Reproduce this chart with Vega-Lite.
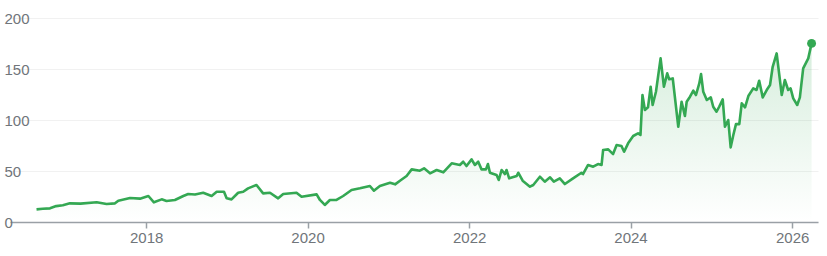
{
  "$schema": "https://vega.github.io/schema/vega-lite/v6.json",
  "width": 808,
  "height": 204,
  "autosize": {"type": "none"},
  "padding": {"left": 10, "top": 18, "right": 9, "bottom": 34},
  "background": "white",
  "config": {
    "view": {"stroke": null},
    "font": "Liberation Sans"
  },
  "data": {
    "values": [
      {"date": "2016-08-23", "price": 12.4},
      {"date": "2016-09-20", "price": 13.0},
      {"date": "2016-10-23", "price": 13.4},
      {"date": "2016-11-20", "price": 15.6},
      {"date": "2016-12-20", "price": 16.4},
      {"date": "2017-01-21", "price": 18.3},
      {"date": "2017-03-10", "price": 18.0},
      {"date": "2017-05-22", "price": 19.3},
      {"date": "2017-07-06", "price": 17.6},
      {"date": "2017-08-13", "price": 18.3},
      {"date": "2017-08-28", "price": 20.9},
      {"date": "2017-10-20", "price": 23.5},
      {"date": "2017-12-04", "price": 22.9},
      {"date": "2018-01-11", "price": 25.5},
      {"date": "2018-02-05", "price": 19.3},
      {"date": "2018-03-12", "price": 22.2},
      {"date": "2018-04-03", "price": 20.6},
      {"date": "2018-05-11", "price": 21.6},
      {"date": "2018-06-18", "price": 25.5},
      {"date": "2018-07-10", "price": 27.4},
      {"date": "2018-08-10", "price": 27.0},
      {"date": "2018-09-16", "price": 28.7},
      {"date": "2018-10-24", "price": 25.5},
      {"date": "2018-11-16", "price": 29.7},
      {"date": "2018-12-19", "price": 29.7},
      {"date": "2018-12-31", "price": 23.2},
      {"date": "2019-01-22", "price": 22.2},
      {"date": "2019-02-21", "price": 28.7},
      {"date": "2019-03-16", "price": 29.7},
      {"date": "2019-04-07", "price": 33.0},
      {"date": "2019-05-15", "price": 36.3},
      {"date": "2019-06-14", "price": 28.1},
      {"date": "2019-07-15", "price": 28.7},
      {"date": "2019-08-21", "price": 23.2},
      {"date": "2019-09-13", "price": 27.4},
      {"date": "2019-11-12", "price": 28.7},
      {"date": "2019-12-05", "price": 24.8},
      {"date": "2020-02-11", "price": 27.1},
      {"date": "2020-02-26", "price": 21.6},
      {"date": "2020-03-19", "price": 16.7},
      {"date": "2020-04-11", "price": 21.6},
      {"date": "2020-05-11", "price": 21.6},
      {"date": "2020-06-10", "price": 25.5},
      {"date": "2020-07-18", "price": 31.4},
      {"date": "2020-08-25", "price": 33.0},
      {"date": "2020-10-09", "price": 35.3},
      {"date": "2020-10-27", "price": 30.7},
      {"date": "2020-11-23", "price": 35.3},
      {"date": "2021-01-08", "price": 38.5},
      {"date": "2021-01-31", "price": 36.9},
      {"date": "2021-02-22", "price": 40.5},
      {"date": "2021-03-24", "price": 45.1},
      {"date": "2021-04-16", "price": 51.6},
      {"date": "2021-05-23", "price": 50.3},
      {"date": "2021-06-11", "price": 52.6},
      {"date": "2021-07-08", "price": 47.7},
      {"date": "2021-08-07", "price": 51.0},
      {"date": "2021-09-06", "price": 48.7},
      {"date": "2021-10-14", "price": 57.5},
      {"date": "2021-11-20", "price": 55.9},
      {"date": "2021-12-05", "price": 59.1},
      {"date": "2021-12-20", "price": 54.9},
      {"date": "2022-01-12", "price": 61.4},
      {"date": "2022-01-27", "price": 55.9},
      {"date": "2022-02-11", "price": 59.1},
      {"date": "2022-02-26", "price": 51.6},
      {"date": "2022-03-18", "price": 51.6},
      {"date": "2022-03-27", "price": 56.8},
      {"date": "2022-04-05", "price": 48.3},
      {"date": "2022-05-05", "price": 46.1},
      {"date": "2022-05-15", "price": 41.2},
      {"date": "2022-05-28", "price": 51.0},
      {"date": "2022-06-12", "price": 47.0},
      {"date": "2022-06-19", "price": 51.0},
      {"date": "2022-07-01", "price": 42.8},
      {"date": "2022-08-04", "price": 45.1},
      {"date": "2022-08-11", "price": 48.3},
      {"date": "2022-08-31", "price": 40.5},
      {"date": "2022-10-03", "price": 34.6},
      {"date": "2022-10-18", "price": 36.3},
      {"date": "2022-11-17", "price": 44.4},
      {"date": "2022-12-09", "price": 39.5},
      {"date": "2023-01-02", "price": 43.8},
      {"date": "2023-01-19", "price": 39.5},
      {"date": "2023-02-15", "price": 42.8},
      {"date": "2023-03-10", "price": 37.2},
      {"date": "2023-04-16", "price": 42.8},
      {"date": "2023-05-24", "price": 48.3},
      {"date": "2023-05-31", "price": 47.0},
      {"date": "2023-06-23", "price": 55.9},
      {"date": "2023-07-16", "price": 54.2},
      {"date": "2023-08-07", "price": 56.8},
      {"date": "2023-08-23", "price": 55.9},
      {"date": "2023-08-30", "price": 70.6},
      {"date": "2023-09-22", "price": 71.2},
      {"date": "2023-10-14", "price": 66.6},
      {"date": "2023-10-30", "price": 75.5},
      {"date": "2023-11-21", "price": 74.5},
      {"date": "2023-12-03", "price": 68.9},
      {"date": "2023-12-21", "price": 77.1},
      {"date": "2024-01-13", "price": 84.3},
      {"date": "2024-02-04", "price": 86.9},
      {"date": "2024-02-15", "price": 85.3},
      {"date": "2024-02-24", "price": 124.5},
      {"date": "2024-03-06", "price": 109.8},
      {"date": "2024-03-20", "price": 112.4},
      {"date": "2024-04-01", "price": 132.6},
      {"date": "2024-04-10", "price": 114.7},
      {"date": "2024-04-25", "price": 127.7},
      {"date": "2024-05-16", "price": 160.4},
      {"date": "2024-05-31", "price": 132.6},
      {"date": "2024-06-15", "price": 145.7},
      {"date": "2024-06-24", "price": 139.9},
      {"date": "2024-07-10", "price": 140.8},
      {"date": "2024-08-04", "price": 93.4},
      {"date": "2024-08-19", "price": 117.9},
      {"date": "2024-09-03", "price": 103.9},
      {"date": "2024-09-11", "price": 117.9},
      {"date": "2024-09-26", "price": 122.8},
      {"date": "2024-10-11", "price": 128.7},
      {"date": "2024-10-23", "price": 124.5},
      {"date": "2024-11-07", "price": 135.9},
      {"date": "2024-11-15", "price": 145.0},
      {"date": "2024-11-25", "price": 127.7},
      {"date": "2024-12-11", "price": 119.6},
      {"date": "2024-12-29", "price": 122.2},
      {"date": "2025-01-09", "price": 113.0},
      {"date": "2025-01-24", "price": 108.1},
      {"date": "2025-02-05", "price": 113.0},
      {"date": "2025-02-21", "price": 120.2},
      {"date": "2025-03-03", "price": 93.4},
      {"date": "2025-03-18", "price": 100.0},
      {"date": "2025-03-29", "price": 73.2},
      {"date": "2025-04-10", "price": 85.3},
      {"date": "2025-04-22", "price": 96.0},
      {"date": "2025-05-07", "price": 96.0},
      {"date": "2025-05-18", "price": 116.3},
      {"date": "2025-06-02", "price": 112.4},
      {"date": "2025-06-17", "price": 123.5},
      {"date": "2025-07-09", "price": 131.0},
      {"date": "2025-07-24", "price": 129.4},
      {"date": "2025-08-05", "price": 138.5},
      {"date": "2025-08-21", "price": 122.2},
      {"date": "2025-09-08", "price": 129.4},
      {"date": "2025-09-23", "price": 134.3},
      {"date": "2025-10-05", "price": 152.2},
      {"date": "2025-10-23", "price": 165.3},
      {"date": "2025-11-15", "price": 124.5},
      {"date": "2025-11-29", "price": 139.2},
      {"date": "2025-12-14", "price": 129.4},
      {"date": "2025-12-25", "price": 131.0},
      {"date": "2026-01-06", "price": 121.2},
      {"date": "2026-01-24", "price": 114.7},
      {"date": "2026-02-05", "price": 122.2},
      {"date": "2026-02-20", "price": 150.6},
      {"date": "2026-03-15", "price": 160.4},
      {"date": "2026-03-30", "price": 175.1}
    ]
  },
  "encoding": {
    "x": {
      "field": "date",
      "type": "temporal",
      "scale": {"domain": [{"year": 2016, "month": 4, "date": 25}, {"year": 2026, "month": 4, "date": 28}]},
      "axis": {
        "title": null,
        "values": [{"year": 2018, "month": 1, "date": 1}, {"year": 2020, "month": 1, "date": 1}, {"year": 2022, "month": 1, "date": 1}, {"year": 2024, "month": 1, "date": 1}, {"year": 2026, "month": 1, "date": 1}],
        "format": "%Y",
        "grid": false,
        "domainColor": "#9aa0a6",
        "domainWidth": 1.5,
        "tickColor": "#9aa0a6",
        "tickWidth": 1.5,
        "tickSize": 6,
        "labelColor": "#70757a",
        "labelFontSize": 15,
        "labelFont": "Liberation Sans",
        "labelPadding": 2
      }
    },
    "y": {
      "field": "price",
      "type": "quantitative",
      "scale": {"domain": [0, 200], "nice": false},
      "axis": {
        "title": null,
        "values": [0, 50, 100, 150, 200],
        "domain": false,
        "ticks": false,
        "tickSize": 0,
        "labelAlign": "left",
        "labelBaseline": "middle",
        "labelPadding": 6,
        "labelColor": "#70757a",
        "labelFontSize": 15,
        "labelFont": "Liberation Sans",
        "gridColor": "#f1f1f1",
        "gridWidth": 1
      }
    }
  },
  "layer": [
    {
      "mark": {
        "type": "area",
        "color": {
          "gradient": "linear",
          "x1": 0, "y1": 1, "x2": 0, "y2": 0,
          "stops": [
            {"offset": 0, "color": "rgba(52,168,83,0)"},
            {"offset": 1, "color": "rgba(52,168,83,0.2)"}
          ]
        }
      }
    },
    {
      "mark": {"type": "line", "color": "#34a853", "strokeWidth": 2.6, "strokeJoin": "round"}
    },
    {
      "transform": [
        {"window": [{"op": "row_number", "as": "rn"}], "sort": [{"field": "date", "order": "descending"}]},
        {"filter": "datum.rn == 1"}
      ],
      "mark": {"type": "point", "filled": true, "opacity": 1, "color": "#34a853", "size": 80}
    }
  ]
}
